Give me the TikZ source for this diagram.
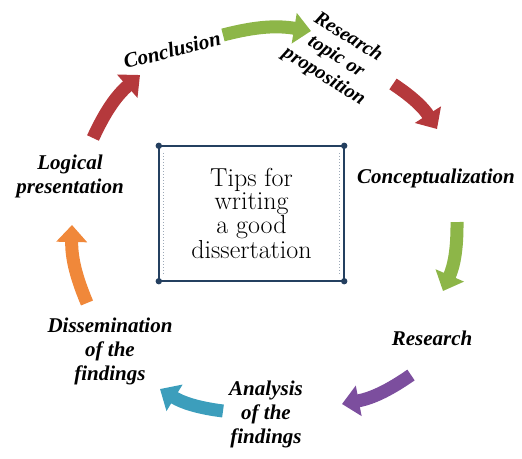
\documentclass[tikz,border=0pt]{standalone}
\usepackage{fontspec}
\usepackage{tikz}
\usepackage{xcolor}
\usetikzlibrary{arrows.meta,calc}
\newfontfamily\cyclefont{Liberation Serif}[BoldItalicFont={* Bold Italic}]
\definecolor{leafgreen}{RGB}{141,182,72}
\definecolor{brick}{RGB}{181,57,60}
\definecolor{grape}{RGB}{124,78,158}
\definecolor{sea}{RGB}{60,158,188}
\definecolor{tangerine}{RGB}{240,136,58}
\definecolor{boxnavy}{RGB}{36,64,96}

\tikzset{
  stage/.style={font=\cyclefont\bfseries\itshape\fontsize{21}{24}\selectfont, align=center, inner sep=1pt},
  blockarrow/.style={line width=13pt, -{Triangle[length=17pt,width=30pt]}, bend left=12}
}

\begin{document}
\begin{tikzpicture}[x=1pt,y=1pt]
\useasboundingbox (0,0) rectangle (522,-458);

% Central box
\node[font=\fontsize{26}{22.5}\selectfont, align=center, minimum width=185pt, minimum height=135pt] (tips) at (251.5,-213.5) {Tips for\\writing\\a good\\dissertation};
\draw[boxnavy, line width=2pt] (tips.north west) rectangle (tips.south east);
\draw[boxnavy!45, line width=1pt, dotted] ([shift={(5,-7)}]tips.north west) -- ([shift={(5,7)}]tips.south west);
\draw[boxnavy!45, line width=1pt, dotted] ([shift={(-5,-7)}]tips.north east) -- ([shift={(-5,7)}]tips.south east);
\foreach \c in {north west, north east, south west, south east}
  \fill[boxnavy] (tips.\c) circle (3.2pt);

% Stages of the cycle
\node[stage, rotate=14] (concl) at (172,-50) {Conclusion};
\node[stage, rotate=-32, font=\cyclefont\bfseries\itshape\fontsize{20}{23}\selectfont] (topic) at (336,-57) {Research\\topic or\\proposition};
\node[stage] (concept) at (436,-178) {Conceptualization};
\node[stage] (research) at (432,-338) {Research};
\node[stage] (analysis) at (266,-414) {Analysis\\of the\\findings};
\node[stage] (dissem) at (110,-351) {Dissemination\\of the\\findings};
\node[stage] (logical) at (70,-176) {Logical\\presentation};

% Arrow ends
\coordinate (a1) at (223,-35);  \coordinate (b1) at (311,-31);
\coordinate (a2) at (393,-84);  \coordinate (b2) at (437,-129);
\coordinate (a3) at (457,-222); \coordinate (b3) at (443,-291);
\coordinate (a4) at (411,-375); \coordinate (b4) at (342,-404);
\coordinate (a5) at (223,-411); \coordinate (b5) at (160,-389);
\coordinate (a6) at (87,-303);  \coordinate (b6) at (72,-225);
\coordinate (a7) at (93,-138);  \coordinate (b7) at (140,-75);

% Arrows round the cycle
\draw[blockarrow, leafgreen] (a1) to (b1);
\draw[blockarrow, brick] (a2) to (b2);
\draw[blockarrow, leafgreen] (a3) to (b3);
\draw[blockarrow, grape] (a4) to (b4);
\draw[blockarrow, sea] (a5) to (b5);
\draw[blockarrow, tangerine] (a6) to (b6);
\draw[blockarrow, brick] (a7) to (b7);
\end{tikzpicture}
\end{document}
